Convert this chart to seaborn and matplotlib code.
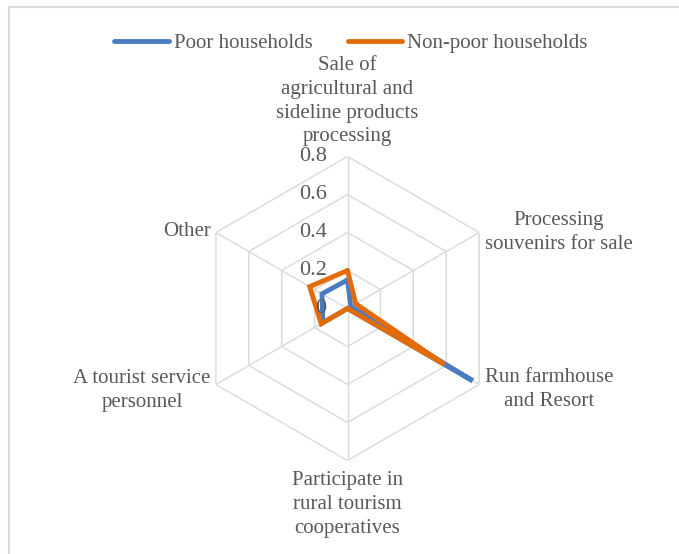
import numpy as np
import pandas as pd
import matplotlib
matplotlib.use("Agg")
import matplotlib.pyplot as plt
import seaborn as sns
from matplotlib.lines import Line2D

categories = [
    "Sale of\nagricultural and\nsideline products\nprocessing",
    "Processing\nsouvenirs for sale",
    "Run farmhouse\nand Resort",
    "Participate in\nrural tourism\ncooperatives",
    "A tourist service\npersonnel",
    "Other",
]
poor = [0.15, 0.02, 0.76, 0.0, 0.15, 0.155]
non_poor = [0.20, 0.05, 0.59, 0.0, 0.16, 0.23]
series_names = ["Poor households", "Non-poor households"]
tick_values = [0, 0.2, 0.4, 0.6, 0.8]
tick_labels = ["0", "0.2", "0.4", "0.6", "0.8"]

sns.set_theme(style="white")
plt.rcParams["font.family"] = ["Liberation Serif", "DejaVu Serif"]

BLUE = "#4A7CC2"
ORANGE = "#E36C0A"
GRID = "#D9D9D9"
TEXT = "#595959"

W, H = 679, 554
fig = plt.figure(figsize=(W / 100, H / 100), dpi=100)

cx, cy, R = 347.5, 308.5, 152.0
ax = fig.add_axes([(cx - R) / W, (H - cy - R) / H, 2 * R / W, 2 * R / H],
                  projection="polar")
ax.set_theta_offset(np.pi / 2)
ax.set_theta_direction(-1)
ax.set_ylim(0, 0.8)
ax.grid(False)
ax.spines["polar"].set_visible(False)
ax.patch.set_alpha(0)

n = len(categories)
angles = np.arange(n) * 2 * np.pi / n
closed = np.append(angles, angles[0])

# hexagonal grid
for r in tick_values[1:]:
    ax.plot(closed, [r] * (n + 1), color=GRID, lw=1.0, zorder=1)
for a in angles:
    ax.plot([a, a], [0, 0.8], color=GRID, lw=1.0, zorder=1)

# data
rows = []
for name, vals in zip(series_names, [poor, non_poor]):
    v = list(vals) + [vals[0]]
    for i, (a, val) in enumerate(zip(closed, v)):
        rows.append({"theta": a, "value": val, "series": name, "order": i})
df = pd.DataFrame(rows)
sns.lineplot(data=df, x="theta", y="value", hue="series", units="series",
             estimator=None, sort=False, palette=[BLUE, ORANGE],
             linewidth=3.5, ax=ax, legend=False, zorder=3)
for line in ax.lines[-2:]:
    line.set_solid_capstyle("round")
    line.set_solid_joinstyle("miter")
ax.set_xlabel("")
ax.set_ylabel("")
ax.set_xticks([])
ax.set_yticks([])
ax.set_ylim(0, 0.8)

# radial tick labels
for v, lab in zip(tick_values, tick_labels):
    ax.annotate(lab, xy=(0, v), xytext=(-21, 0), textcoords="offset pixels",
                ha="right", va="center", fontsize=16, color=TEXT)

# category labels
fs = 15
label_specs = [
    dict(off=(0, 10), ha="center", va="bottom"),
    dict(off=(6, 0), ha="left", va="center"),
    dict(off=(6, -5), ha="left", va="center"),
    dict(off=(0, -11), ha="center", va="top"),
    dict(off=(-5, -6), ha="right", va="center"),
    dict(off=(-5, 1), ha="right", va="center"),
]
for a, lab, sp in zip(angles, categories, label_specs):
    ax.annotate(lab, xy=(a, 0.8), xytext=sp["off"], textcoords="offset pixels",
                ha=sp["ha"], va=sp["va"], multialignment="center",
                fontsize=fs, color=TEXT, linespacing=1.35,
                annotation_clip=False)

# legend
handles = [Line2D([], [], color=BLUE, lw=3.5, solid_capstyle="round"),
           Line2D([], [], color=ORANGE, lw=3.5, solid_capstyle="round")]
leg = fig.legend(handles, series_names, loc="center",
                 bbox_to_anchor=(351 / W, 1 - 43 / H), ncol=2, frameon=False,
                 fontsize=fs, handlelength=2.6, handletextpad=0.25,
                 columnspacing=1.7, borderaxespad=0)
for t in leg.get_texts():
    t.set_color(TEXT)

# chart frame (top and left edges)
fig.add_artist(Line2D([8.5 / W, 1], [1 - 6.5 / H, 1 - 6.5 / H],
                      transform=fig.transFigure, color=GRID, lw=1.5))
fig.add_artist(Line2D([8.5 / W, 8.5 / W], [0, 1 - 6.5 / H],
                      transform=fig.transFigure, color=GRID, lw=1.5))

fig.savefig("out.png", dpi=100)
